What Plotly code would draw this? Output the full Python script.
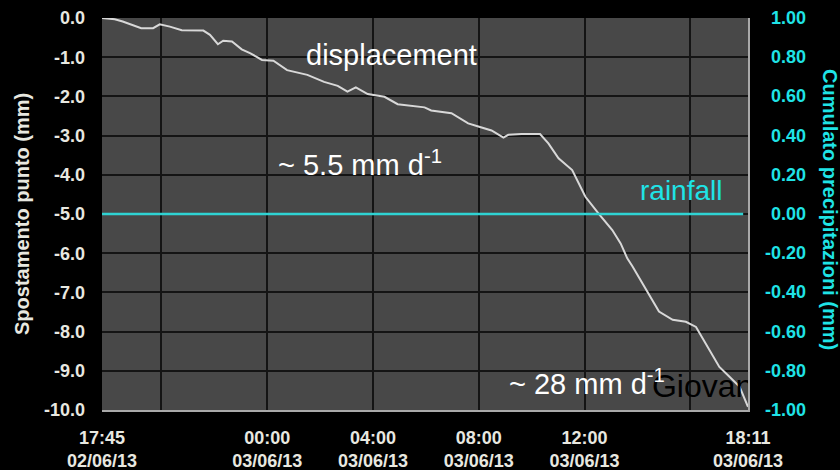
import plotly.graph_objects as go

# Displacement of the monitored point (mm) over time
disp_time = [
    "2013-06-02 17:45", "2013-06-02 18:14", "2013-06-02 18:32", "2013-06-02 18:55",
    "2013-06-02 19:14", "2013-06-02 19:41", "2013-06-02 19:56", "2013-06-02 20:19",
    "2013-06-02 20:46", "2013-06-02 21:35", "2013-06-02 21:50", "2013-06-02 22:08",
    "2013-06-02 22:20", "2013-06-02 22:40", "2013-06-02 23:02", "2013-06-02 23:22",
    "2013-06-02 23:48", "2013-06-03 00:14", "2013-06-03 00:45", "2013-06-03 01:31",
    "2013-06-03 02:09", "2013-06-03 02:40", "2013-06-03 03:02", "2013-06-03 03:21",
    "2013-06-03 03:48", "2013-06-03 04:26", "2013-06-03 04:56", "2013-06-03 05:57",
    "2013-06-03 06:12", "2013-06-03 06:58", "2013-06-03 07:36", "2013-06-03 07:59",
    "2013-06-03 08:29", "2013-06-03 08:56", "2013-06-03 09:07", "2013-06-03 09:37",
    "2013-06-03 10:19", "2013-06-03 10:38", "2013-06-03 11:01", "2013-06-03 11:32",
    "2013-06-03 11:47", "2013-06-03 12:02", "2013-06-03 12:32", "2013-06-03 13:03",
    "2013-06-03 13:22", "2013-06-03 13:37", "2013-06-03 13:49", "2013-06-03 14:11",
    "2013-06-03 14:30", "2013-06-03 14:49", "2013-06-03 15:20", "2013-06-03 15:50",
    "2013-06-03 16:13", "2013-06-03 16:35", "2013-06-03 17:06", "2013-06-03 17:29",
    "2013-06-03 17:52", "2013-06-03 18:11",
]
disp_mm = [
    0.00, -0.03, -0.09, -0.18,
    -0.26, -0.26, -0.16, -0.22,
    -0.31, -0.32, -0.43, -0.67,
    -0.58, -0.60, -0.80, -0.90,
    -1.07, -1.09, -1.33, -1.45,
    -1.63, -1.73, -1.88, -1.77,
    -1.94, -2.01, -2.20, -2.28,
    -2.36, -2.43, -2.69, -2.77,
    -2.87, -3.05, -2.98, -2.96,
    -2.96, -3.20, -3.58, -3.88,
    -4.22, -4.56, -4.99, -5.41,
    -5.75, -6.13, -6.34, -6.77,
    -7.11, -7.49, -7.70, -7.75,
    -7.88, -8.30, -8.90, -9.15,
    -9.41, -9.92,
]

# Cumulative rainfall (mm)
rain_time = ["2013-06-02 17:45", "2013-06-03 18:00"]
rain_mm = [0.0, 0.0]

# Axis ticks
x_range = ["2013-06-02 17:45", "2013-06-03 18:11"]
x_tick_vals = ["2013-06-02 17:45", "2013-06-03 00:00", "2013-06-03 04:00",
               "2013-06-03 08:00", "2013-06-03 12:00", "2013-06-03 18:11"]
x_tick_text = ["17:45<br>02/06/13", "00:00<br>03/06/13", "04:00<br>03/06/13",
               "08:00<br>03/06/13", "12:00<br>03/06/13", "18:11<br>03/06/13"]
disp_ticks = [0, -1, -2, -3, -4, -5, -6, -7, -8, -9, -10]
rain_ticks = [1.0, 0.8, 0.6, 0.4, 0.2, 0.0, -0.2, -0.4, -0.6, -0.8, -1.0]

FONT = "Liberation Sans, Arial, sans-serif"
LABEL = "#e8e8e0"
CYAN_LINE = "#2fd3d3"
CYAN_TEXT = "#1fe3e6"
GRID = "#141414"

fig = go.Figure()

fig.add_trace(go.Scatter(
    x=disp_time, y=disp_mm, mode="lines", yaxis="y",
    line=dict(color="#d8d8d8", width=2), hoverinfo="skip", showlegend=False,
))

fig.add_trace(go.Scatter(
    x=["2013-06-03 14:33"], y=[-9.47], mode="text", yaxis="y",
    text=["Giovanni"], textposition="middle right", cliponaxis=True,
    textfont=dict(family=FONT, size=32, color="#000000"),
    hoverinfo="skip", showlegend=False,
))

fig.add_trace(go.Scatter(
    x=rain_time, y=rain_mm, mode="lines", yaxis="y2",
    line=dict(color=CYAN_LINE, width=2.5), hoverinfo="skip", showlegend=False,
))

annotations = [
    dict(text="displacement", x="2013-06-03 04:41", y=-0.95, xref="x", yref="y",
         showarrow=False, font=dict(family=FONT, size=29, color="#ffffff")),
    dict(text="~ 5.5 mm d<sup>-1</sup>", x="2013-06-03 03:30", y=-3.7, xref="x", yref="y",
         showarrow=False, font=dict(family=FONT, size=29, color="#ffffff")),
    dict(text="rainfall", x="2013-06-03 15:40", y=-4.4, xref="x", yref="y",
         showarrow=False, font=dict(family=FONT, size=28, color=CYAN_TEXT)),
    dict(text="~ 28 mm d<sup>-1</sup>", x="2013-06-03 12:06", y=-9.28, xref="x", yref="y",
         showarrow=False, font=dict(family=FONT, size=29, color="#ffffff")),
    dict(text="Spostamento punto (mm)", x=0, xref="paper", xshift=-80, xanchor="center",
         y=0.5, yref="paper", yanchor="middle", textangle=-90, showarrow=False,
         font=dict(family=FONT, size=20, color=LABEL, weight="bold")),
    dict(text="Cumulato precipitazioni (mm)", x=1, xref="paper", xshift=82, xanchor="center",
         y=0.5, yref="paper", yshift=5, yanchor="middle", textangle=90, showarrow=False,
         font=dict(family=FONT, size=20, color=CYAN_TEXT, weight="bold")),
]
for v in rain_ticks:
    annotations.append(dict(
        text=f"{v:.2f}", x=1, xref="paper", xshift=60, xanchor="right",
        y=v, yref="y2", yanchor="middle", showarrow=False,
        font=dict(family=FONT, size=18, color=CYAN_TEXT, weight="bold"),
    ))

fig.update_layout(
    width=840, height=470,
    margin=dict(l=102, r=92, t=18, b=60, autoexpand=False),
    paper_bgcolor="#000000",
    plot_bgcolor="#484848",
    showlegend=False,
    annotations=annotations,
    xaxis=dict(
        type="date", range=x_range, automargin=False,
        tickmode="array", tickvals=x_tick_vals, ticktext=x_tick_text,
        tickfont=dict(family=FONT, size=18, color=LABEL, weight="bold"),
        ticks="", ticklabelstandoff=10,
        showgrid=True, gridcolor=GRID, gridwidth=2,
        minor=dict(dtick=4 * 3600 * 1000, tick0="2013-06-03 00:00",
                   showgrid=True, gridcolor=GRID, gridwidth=2),
        showline=True, linecolor="#a9a9a9", linewidth=2,
        zeroline=False,
    ),
    yaxis=dict(
        range=[-10, 0], tickmode="array", tickvals=disp_ticks, automargin=False,
        ticktext=[f"{v:.1f}" for v in disp_ticks],
        tickfont=dict(family=FONT, size=18, color=LABEL, weight="bold"),
        ticks="", ticklabelstandoff=16,
        showgrid=True, gridcolor=GRID, gridwidth=2,
        zeroline=False, showline=False,
    ),
    yaxis2=dict(
        range=[-1, 1], overlaying="y", side="right", automargin=False,
        showticklabels=False, ticks="", showgrid=False, zeroline=False,
        showline=True, linecolor="#a9a9a9", linewidth=2,
    ),
)

fig.write_html("out.html")
